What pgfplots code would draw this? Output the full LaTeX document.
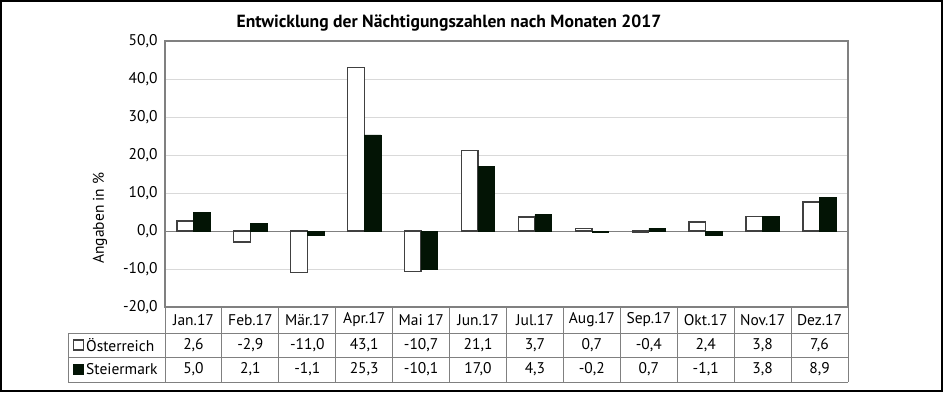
\documentclass[border=0pt]{standalone}
\usepackage{pgfplots}
\pgfplotsset{compat=1.18}
\usepackage{fontspec}
\setmainfont{PT Sans}
\definecolor{stm}{RGB}{3,20,5}
\definecolor{frm}{RGB}{128,128,128}
\definecolor{grd}{RGB}{217,217,217}
\definecolor{bdr}{RGB}{64,64,64}
\pgfplotstableread{
x oe st
0 2.6 5.0
1 -2.9 2.1
2 -11.0 -1.1
3 43.1 25.3
4 -10.7 -10.1
5 21.1 17.0
6 3.7 4.3
7 0.7 -0.2
8 -0.4 0.7
9 2.4 -1.1
10 3.8 3.8
11 7.6 8.9
}\datatab
\newcommand\fs{\fontsize{15.5}{16}\selectfont}
\begin{document}
\begin{tikzpicture}
\begin{axis}[
  at={(165pt,85pt)}, anchor=south west,
  scale only axis, width=683pt, height=266pt,
  xmin=-0.5, xmax=11.5, ymin=-20, ymax=50,
  ytick={-20,-10,...,50}, xtick=\empty,
  ymajorgrids, grid style={grd, line width=1pt},
  extra y ticks={0}, extra y tick labels={},
  extra y tick style={grid style={frm, line width=1pt}},
  axis line style={frm, line width=1.2pt},
  tick style={draw=none},
  ybar=0pt, bar width=16.6pt,
  yticklabel style={font=\fs, xshift=-4pt,
    /pgf/number format/.cd, fixed, fixed zerofill, precision=1, use comma, assume math mode=true},
  clip=false,
]
\addplot[fill=white, draw=bdr, line width=1.3pt] table[x=x,y=oe]{\datatab};
\addplot[fill=stm, draw=stm, line width=0.5pt] table[x=x,y=st]{\datatab};
\end{axis}
\begin{scope}[x=1pt,y=1pt]
\path[use as bounding box] (0,0) rectangle (945,392);
\draw[line width=2pt] (1,1) rectangle (942,391);
\node[font=\fontsize{17.6}{18}\selectfont\bfseries] at (449,369) {Entwicklung der Nächtigungszahlen nach Monaten 2017};
\node[rotate=90,font=\fs] at (100,174) {Angaben in \%};
\def\cw{56.917}
\begin{scope}[frm, line width=1pt]
\draw (165,85) -- (848,85);
\draw (68,59) -- (848,59);
\draw (68,35) -- (848,35);
\draw (68,10) -- (848,10);
\draw (68,10) -- (68,59);
\foreach \i in {0,...,12} {\draw (165+\i*\cw,10) -- (165+\i*\cw,85);}
\end{scope}
\foreach \m [count=\i from 0] in {Jan.17,Feb.17,Mär.17,Apr.17,Mai 17,Jun.17,Jul.17,Aug.17,Sep.17,Okt.17,Nov.17,Dez.17}
  {\node[font=\fs] at (165+\i*\cw+0.5*\cw,72) {\m};}
\foreach \a/\b [count=\i from 0] in {2/6,-2/9,-11/0,43/1,-10/7,21/1,3/7,0/7,-0/4,2/4,3/8,7/6}
  {\node[font=\fs] at (165+\i*\cw+0.5*\cw,47) {\a,\b};}
\foreach \a/\b [count=\i from 0] in {5/0,2/1,-1/1,25/3,-10/1,17/0,4/3,-0/2,0/7,-1/1,3/8,8/9}
  {\node[font=\fs] at (165+\i*\cw+0.5*\cw,22.5) {\a,\b};}
\draw[bdr, fill=white, line width=1.2pt] (73.5,42) rectangle (83.5,52);
\fill[stm] (73,17.5) rectangle (84,28.5);
\node[anchor=west, font=\fs, inner sep=1pt] at (85,47) {Österreich};
\node[anchor=west, font=\fs, inner sep=1pt] at (85,22.5) {Steiermark};
\end{scope}
\end{tikzpicture}
\end{document}
